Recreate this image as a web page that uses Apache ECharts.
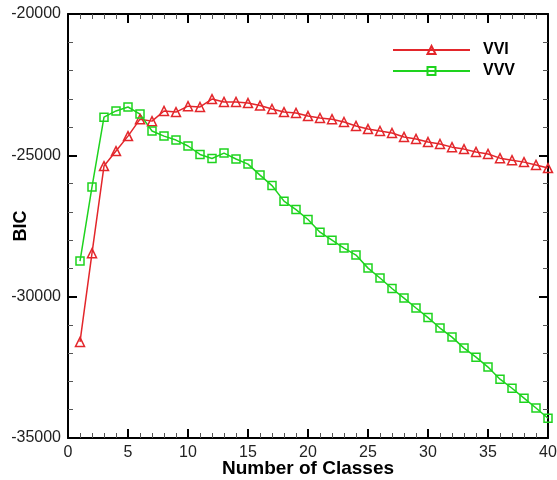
<!DOCTYPE html>
<html>
<head>
<meta charset="utf-8">
<script src="https://cdn.jsdelivr.net/npm/echarts@6/dist/echarts.min.js"></script>
<style>
  html, body { margin: 0; padding: 0; background: #fff; }
  #chart { width: 557px; height: 480px; }
</style>
</head>
<body>
<div id="chart"></div>
<script>
// number of classes
var classes = [];
for (var k = 1; k <= 40; k++) classes.push(k);

var vviValues = [
  -31600, -28460, -25380, -24850, -24320, -23720, -23790, -23430, -23470, -23260,
  -23290, -23010, -23110, -23110, -23150, -23240, -23360, -23470, -23500, -23610,
  -23680, -23720, -23820, -23960, -24070, -24140, -24210, -24350, -24420, -24530,
  -24600, -24710, -24780, -24880, -24950, -25100, -25170, -25240, -25340, -25450
];

var vvvValues = [
  -28740, -26120, -23650, -23430, -23290, -23540, -24140, -24320, -24460, -24670,
  -24970, -25110, -24920, -25130, -25310, -25700, -26070, -26620, -26920, -27270,
  -27720, -28000, -28280, -28530, -28990, -29340, -29710, -30050, -30400, -30740,
  -31110, -31430, -31820, -32140, -32490, -32920, -33240, -33590, -33940, -34300
];

var seriesNames = ["VVI", "VVV"];
var seriesColors = ["#e3262b", "#1ed31e"];

function pairs(values) {
  return values.map(function (v, i) {
    return [classes[i], v];
  });
}

var font = "'Liberation Sans', Arial, sans-serif";

function frameAxis(extra) {
  var base = {
    axisLine: { show: true, onZero: false, lineStyle: { color: "#000", width: 2 } },
    axisTick: { show: true, inside: true, length: 9, lineStyle: { color: "#000", width: 2 } },
    minorTick: { show: true, splitNumber: 5, length: 5, lineStyle: { color: "#555", width: 1 } },
    splitLine: { show: false },
    minorSplitLine: { show: false },
  };
  return Object.assign(base, extra);
}

var chart = echarts.init(document.getElementById("chart"));

chart.setOption({
  animation: false,
  backgroundColor: "#fff",
  grid: { left: 68, right: 9, top: 14, bottom: 42, containLabel: false, outerBoundsMode: "none" },
  legend: {
    orient: "vertical",
    left: 387,
    top: 37,
    itemWidth: 77,
    itemHeight: 10,
    itemGap: 5,
    data: seriesNames,
    textStyle: {
      fontFamily: font,
      fontWeight: "bold",
      fontSize: 16,
      lineHeight: 14,
      color: "#000",
      padding: [0, 0, 0, 8],
    },
  },
  xAxis: [
    frameAxis({
      type: "value",
      position: "bottom",
      min: 0,
      max: 40,
      interval: 5,
      name: "Number of Classes",
      nameLocation: "middle",
      nameGap: 21,
      nameMoveOverlap: false,
      nameTextStyle: { fontFamily: font, fontWeight: "bold", fontSize: 19, color: "#000" },
      axisLabel: { fontFamily: font, fontSize: 16, color: "#222", margin: 7 },
    }),
    frameAxis({
      type: "value",
      position: "top",
      min: 0,
      max: 40,
      interval: 5,
      axisLabel: { show: false },
    }),
  ],
  yAxis: [
    frameAxis({
      type: "value",
      position: "left",
      min: -35000,
      max: -20000,
      interval: 5000,
      name: "BIC",
      nameLocation: "middle",
      nameGap: 38,
      nameMoveOverlap: false,
      nameRotate: 90,
      nameTextStyle: { fontFamily: font, fontWeight: "bold", fontSize: 18, color: "#000" },
      axisLabel: {
        fontFamily: font,
        fontSize: 16,
        color: "#222",
        margin: 7,
        formatter: function (v) { return String(v); },
      },
    }),
    frameAxis({
      type: "value",
      position: "right",
      min: -35000,
      max: -20000,
      interval: 5000,
      axisLabel: { show: false },
    }),
  ],
  series: [
    {
      name: seriesNames[0],
      type: "line",
      xAxisIndex: 0,
      yAxisIndex: 0,
      data: pairs(vviValues),
      symbol: "triangle",
      symbolSize: 9,
      showAllSymbol: true,
      lineStyle: { color: seriesColors[0], width: 1.5 },
      itemStyle: { color: "rgba(255,255,255,0)", borderColor: seriesColors[0], borderWidth: 1.5 },
    },
    {
      name: seriesNames[1],
      type: "line",
      xAxisIndex: 0,
      yAxisIndex: 0,
      data: pairs(vvvValues),
      symbol: "rect",
      symbolSize: 8,
      showAllSymbol: true,
      lineStyle: { color: seriesColors[1], width: 1.5 },
      itemStyle: { color: "rgba(255,255,255,0)", borderColor: seriesColors[1], borderWidth: 1.5 },
    },
  ],
});
</script>
</body>
</html>
